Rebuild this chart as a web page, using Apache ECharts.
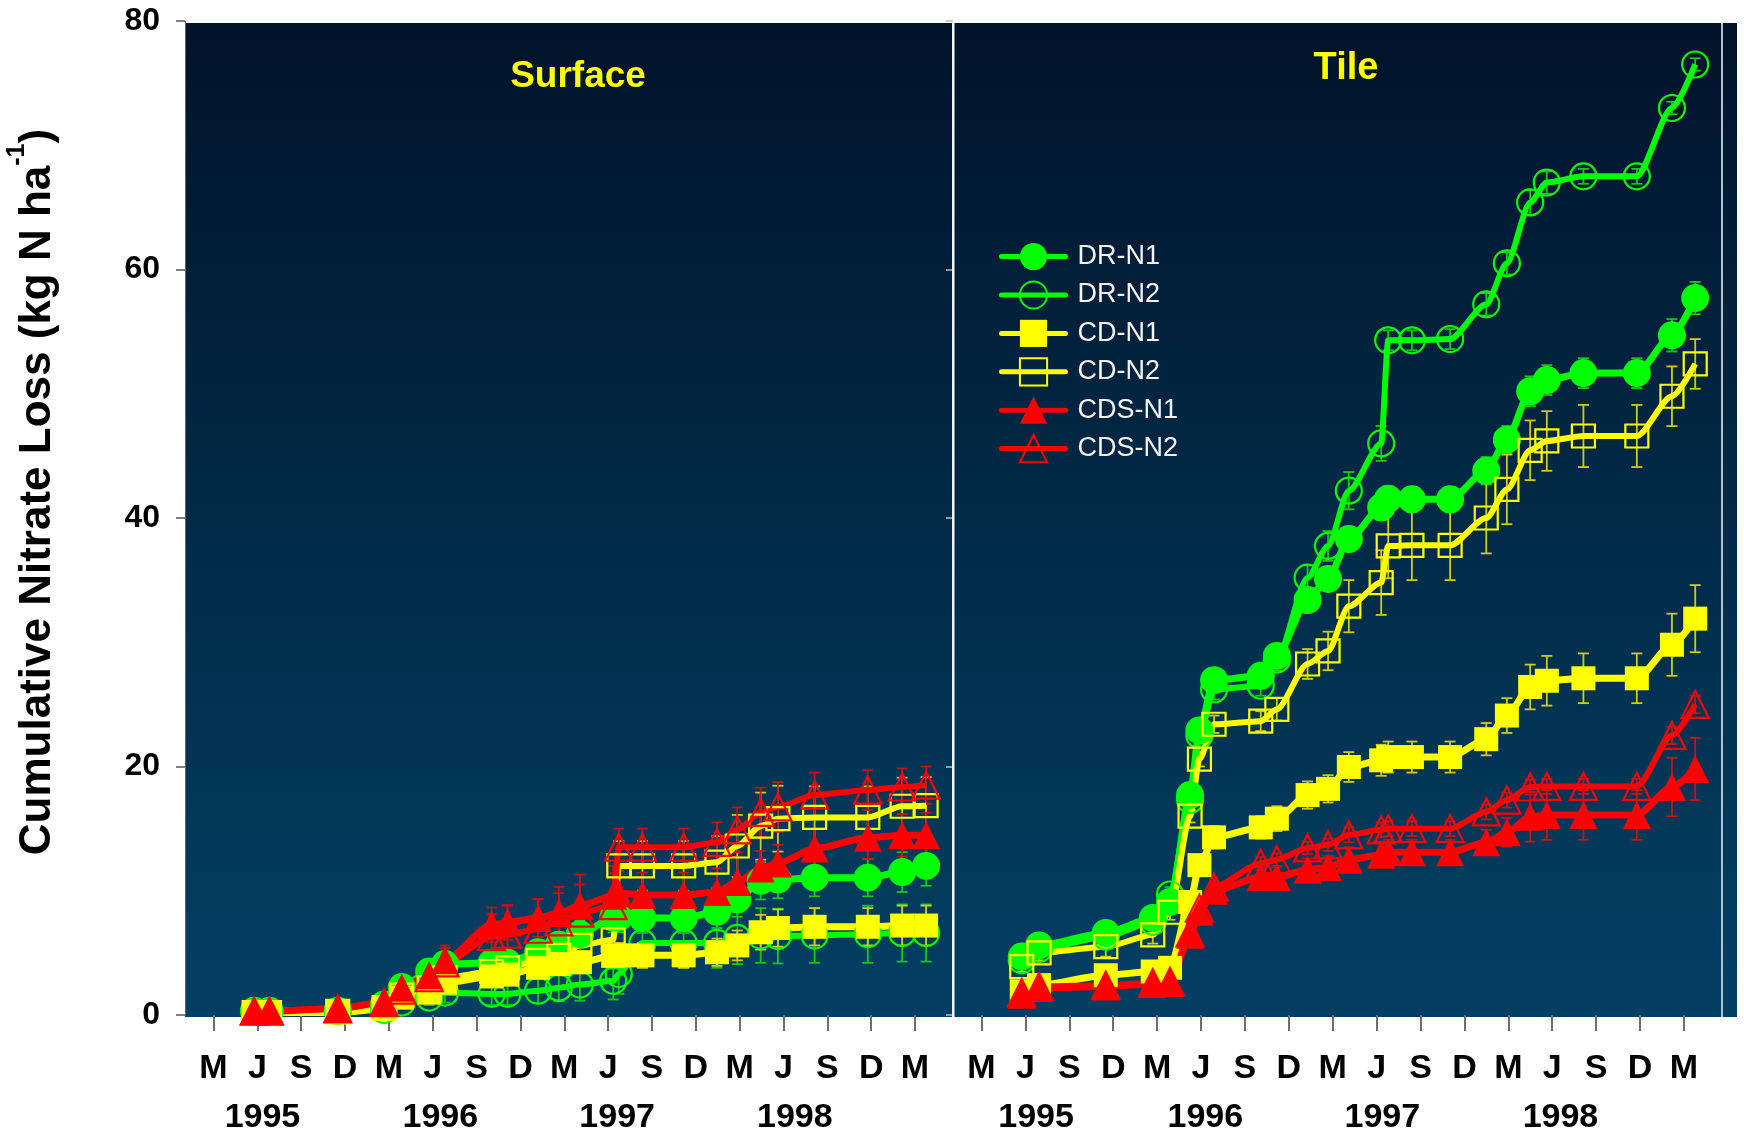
<!DOCTYPE html>
<html>
<head>
<meta charset="utf-8">
<script src="https://cdn.jsdelivr.net/npm/echarts@6/dist/echarts.min.js"></script>
<style>
  html, body { margin: 0; padding: 0; background: #fff; }
  #chart { width: 1744px; height: 1135px; }
</style>
</head>
<body>
<div id="chart"></div>
<script>
// x values are months counted from Dec 1994 (Mar 1995 = 3)
const tickMonths = [3, 6, 9, 12, 15, 18, 21, 24, 27, 30, 33, 36, 39, 42, 45, 48, 51]
const tickLetters = ['M', 'J', 'S', 'D', 'M', 'J', 'S', 'D', 'M', 'J', 'S', 'D', 'M', 'J', 'S', 'D', 'M']
const yearLabels = ['1995', '1996', '1997', '1998']
const surfaceYearPos = [6.35, 18.52, 30.62, 42.78]
const tileYearPos = [6.73, 18.29, 30.39, 42.56]

const seriesNames = ['DR-N1', 'DR-N2', 'CD-N1', 'CD-N2', 'CDS-N1', 'CDS-N2']

// Surface panel
const surfaceDates = [5.78, 6.83, 11.50, 14.67, 15.88, 17.76, 18.84, 22.03, 23.12, 25.21, 26.63, 28.07,
  30.35, 30.73, 32.35, 35.17, 37.45, 38.84, 40.44, 41.62, 44.13, 47.77, 50.12, 51.76]
const surfDRN1 = [0.35, 0.35, 0.35, 0.85, 2.25, 3.5, 4.1, 4.2, 4.2, 5.05, 5.65, 6.5, 7.84, 7.85, 7.8, 7.8, 8.3, 9.3, 10.8, 10.9, 11.05, 11.05, 11.5, 12.0]
const surfDRN2 = [0.3, 0.3, 0.3, 0.4, 1.0, 1.4, 1.8, 1.7, 1.7, 1.95, 2.2, 2.45, 2.75, 3.3, 5.8, 5.8, 5.8, 6.2, 6.4, 6.35, 6.4, 6.5, 6.6, 6.6]
const surfCDN1 = [0.2, 0.2, 0.2, 0.5, 1.4, 1.8, 2.6, 3.1, 3.25, 3.8, 4.1, 4.25, 4.76, 4.8, 4.8, 4.8, 5.05, 5.6, 6.66, 7.0, 7.1, 7.1, 7.2, 7.2]
const surfCDN2 = [0.2, 0.2, 0.3, 0.6, 1.6, 2.2, 3.0, 3.5, 3.8, 4.4, 4.8, 5.6, 6.05, 12.0, 12.0, 12.0, 12.3, 13.6, 15.2, 15.8, 15.9, 15.9, 16.8, 16.85]
const surfCDSN1 = [0.3, 0.3, 0.55, 1.0, 2.2, 3.2, 4.4, 7.25, 7.45, 7.8, 8.2, 8.8, 9.6, 9.8, 9.66, 9.66, 9.9, 10.7, 11.8, 12.2, 13.4, 14.26, 14.47, 14.47]
const surfCDSN2 = [0.3, 0.3, 0.5, 1.0, 2.0, 3.0, 4.2, 6.3, 6.5, 6.9, 7.5, 8.2, 8.8, 13.5, 13.5, 13.5, 13.9, 14.9, 16.3, 16.75, 17.7, 18.1, 18.35, 18.5]
// standard errors (half bar length)
const surfErrDRN1 = [0.1, 0.1, 0.1, 0.2, 0.4, 0.6, 0.8, 0.9, 0.9, 1.0, 1.0, 1.1, 1.2, 1.2, 1.2, 1.2, 1.3, 1.4, 1.5, 1.5, 1.5, 1.5, 1.6, 1.6]
const surfErrDRN2 = [0.1, 0.1, 0.1, 0.2, 0.4, 0.6, 0.8, 0.9, 0.9, 1.0, 1.1, 1.3, 1.5, 1.6, 2.0, 2.0, 2.0, 2.1, 2.2, 2.2, 2.2, 2.3, 2.3, 2.3]
const surfErrCDN1 = [0.1, 0.1, 0.1, 0.2, 0.4, 0.5, 0.6, 0.7, 0.7, 0.8, 0.9, 0.9, 1.0, 1.0, 1.0, 1.0, 1.1, 1.2, 1.4, 1.5, 1.5, 1.5, 1.6, 1.6]
const surfErrCDN2 = [0.1, 0.1, 0.1, 0.2, 0.5, 0.7, 0.9, 1.0, 1.1, 1.2, 1.3, 1.5, 1.6, 2.0, 2.0, 2.0, 2.1, 2.5, 2.7, 2.65, 2.5, 2.5, 2.3, 2.3]
const surfErrCDSN1 = [0.1, 0.1, 0.2, 0.3, 0.6, 0.8, 1.0, 1.4, 1.4, 1.5, 1.6, 1.7, 1.8, 1.8, 1.8, 1.8, 1.9, 2.0, 1.4, 1.5, 1.6, 1.7, 1.7, 1.8]
const surfErrCDSN2 = [0.1, 0.1, 0.2, 0.3, 0.8, 1.1, 1.4, 1.8, 2.3, 2.45, 2.8, 3.1, 3.2, 1.5, 1.5, 1.5, 1.6, 1.8, 2.0, 2.0, 1.8, 1.6, 1.5, 1.5]

// Tile panel
const tileDates = [5.75, 6.93, 11.49, 14.70, 15.88, 17.25, 17.89, 18.89, 22.08, 23.18, 25.28, 26.68, 28.10,
  30.31, 30.79, 32.41, 35.02, 37.49, 38.90, 40.49, 41.63, 44.13, 47.78, 50.18, 51.77]
const tileDRN1 = [4.7, 5.6, 6.6, 7.8, 9.1, 17.7, 22.9, 26.95, 27.3, 28.9, 33.4, 35.1, 38.3, 40.85, 41.55, 41.5, 41.5, 43.8, 46.3, 50.2, 51.1, 51.66, 51.66, 54.7, 57.7]
const tileDRN2 = [4.4, 5.3, 6.3, 7.5, 9.7, 17.3, 22.5, 26.2, 26.5, 28.6, 35.2, 37.75, 42.2, 46.0, 54.3, 54.3, 54.4, 57.2, 60.5, 65.4, 67.0, 67.5, 67.5, 73.0, 76.5]
const tileCDN1 = [1.9, 2.4, 3.2, 3.5, 3.8, 9.1, 12.06, 14.3, 15.1, 15.8, 17.7, 18.2, 19.96, 20.5, 20.76, 20.76, 20.76, 22.2, 24.1, 26.4, 26.9, 27.1, 27.1, 29.8, 31.9]
const tileCDN2 = [3.9, 5.0, 5.5, 6.45, 8.27, 16.0, 20.6, 23.4, 23.65, 24.6, 28.25, 29.3, 32.9, 34.8, 37.75, 37.8, 37.8, 40.0, 42.3, 45.45, 46.2, 46.6, 46.6, 49.8, 52.4]
const tileCDSN1 = [1.63, 2.17, 2.3, 2.5, 2.57, 6.45, 8.3, 10.0, 11.1, 11.1, 11.7, 11.9, 12.5, 12.9, 13.1, 13.1, 13.1, 13.9, 14.7, 15.95, 16.1, 16.1, 16.1, 18.35, 19.8]
const tileCDSN2 = [1.8, 2.3, 2.4, 2.6, 2.7, 6.6, 8.6, 10.3, 12.2, 12.5, 13.45, 13.7, 14.5, 14.9, 15.0, 15.0, 15.0, 16.35, 17.3, 18.35, 18.4, 18.4, 18.4, 22.5, 25.0]
const tileErrDRN1 = [0.3, 0.3, 0.3, 0.4, 0.5, 0.6, 0.6, 0.7, 0.7, 0.8, 0.8, 0.9, 0.9, 1.0, 1.0, 1.0, 1.0, 1.1, 1.1, 1.2, 1.2, 1.2, 1.2, 1.3, 1.3]
const tileErrDRN2 = [0.4, 0.4, 0.4, 0.5, 0.6, 0.8, 0.8, 0.8, 0.8, 0.9, 1.0, 1.2, 1.5, 1.4, 0.8, 0.8, 0.8, 0.9, 0.9, 1.0, 0.9, 0.6, 0.6, 0.5, 0.5]
const tileErrCDN1 = [0.3, 0.3, 0.3, 0.4, 0.5, 0.7, 0.8, 0.9, 0.9, 1.0, 1.1, 1.1, 1.2, 1.25, 1.25, 1.25, 1.25, 1.3, 1.4, 1.8, 2.0, 2.0, 2.0, 2.5, 2.7]
const tileErrCDN2 = [0.4, 0.6, 0.8, 0.7, 0.6, 0.5, 0.6, 0.7, 0.8, 0.9, 1.2, 1.55, 2.1, 2.6, 2.6, 2.8, 2.8, 2.85, 2.8, 2.4, 2.4, 2.5, 2.5, 2.4, 2.0]
const tileErrCDSN1 = [0.2, 0.2, 0.3, 0.3, 0.3, 0.4, 0.5, 0.6, 0.8, 0.8, 0.9, 0.9, 1.0, 1.0, 1.0, 1.0, 1.0, 1.0, 1.15, 2.0, 2.0, 2.0, 2.0, 2.35, 2.5]
const tileErrCDSN2 = [0.2, 0.2, 0.2, 0.2, 0.2, 0.3, 0.3, 0.4, 0.5, 0.5, 0.5, 0.5, 0.6, 0.6, 0.6, 0.6, 0.6, 0.6, 0.6, 0.6, 0.6, 0.6, 0.6, 0.7, 0.7]

const FONT = '"Liberation Sans", Arial, Helvetica, sans-serif'
const X_MIN = 1.05
const X_MAX = 53.6

// look of each treatment, in legend order
const looks = [
  { color: '#00ff00', err: '#14c814', symbol: 'circle', size: 28, filled: true, width: 7 },
  { color: '#00ff00', err: '#14c814', symbol: 'circle', size: 26, filled: false, width: 6 },
  { color: '#ffff00', err: '#cfcb1c', symbol: 'rect', size: 24, filled: true, width: 7 },
  { color: '#ffff00', err: '#cfcb1c', symbol: 'rect', size: 23, filled: false, width: 6 },
  { color: '#ff0000', err: '#c81414', symbol: 'triangle', size: 28, filled: true, width: 7 },
  { color: '#ff0000', err: '#c81414', symbol: 'triangle', size: 27, filled: false, width: 6 }
]

const panels = [
  { xAxisIndex: 0, yAxisIndex: 0, dates: surfaceDates,
    values: [surfDRN1, surfDRN2, surfCDN1, surfCDN2, surfCDSN1, surfCDSN2],
    errors: [surfErrDRN1, surfErrDRN2, surfErrCDN1, surfErrCDN2, surfErrCDSN1, surfErrCDSN2] },
  { xAxisIndex: 2, yAxisIndex: 2, dates: tileDates,
    values: [tileDRN1, tileDRN2, tileCDN1, tileCDN2, tileCDSN1, tileCDSN2],
    errors: [tileErrDRN1, tileErrDRN2, tileErrCDN1, tileErrCDN2, tileErrCDSN1, tileErrCDSN2] }
]

const series = []
panels.forEach(p => {
  seriesNames.forEach((name, k) => {
    const look = looks[k]
    const vals = p.values[k]
    const errs = p.errors[k]
    // error bars
    series.push({
      name: name + ' se',
      type: 'custom',
      xAxisIndex: p.xAxisIndex,
      yAxisIndex: p.yAxisIndex,
      silent: true,
      clip: false,
      data: p.dates.map((d, i) => [d, vals[i] - errs[i], vals[i] + errs[i]]),
      encode: { x: 0, y: [1, 2] },
      renderItem: (params, api) => {
        const lo = api.coord([api.value(0), api.value(1)])
        const hi = api.coord([api.value(0), api.value(2)])
        const style = { stroke: look.err, lineWidth: 1.8 }
        return {
          type: 'group',
          children: [
            { type: 'line', shape: { x1: lo[0], y1: lo[1], x2: hi[0], y2: hi[1] }, style },
            { type: 'line', shape: { x1: lo[0] - 5.5, y1: lo[1], x2: lo[0] + 5.5, y2: lo[1] }, style },
            { type: 'line', shape: { x1: hi[0] - 5.5, y1: hi[1], x2: hi[0] + 5.5, y2: hi[1] }, style }
          ]
        }
      }
    })
    series.push({
      name,
      type: 'line',
      xAxisIndex: p.xAxisIndex,
      yAxisIndex: p.yAxisIndex,
      data: p.dates.map((d, i) => [d, vals[i]]),
      smooth: 0.25,
      smoothMonotone: 'x',
      clip: false,
      symbol: look.symbol,
      symbolSize: look.size,
      showAllSymbol: true,
      lineStyle: { color: look.color, width: look.width },
      itemStyle: look.filled
        ? { color: look.color }
        : { color: 'rgba(0,0,0,0)', borderColor: look.color, borderWidth: 2.2 },
      emphasis: { disabled: true }
    })
  })
})

const monthAxis = gridIndex => ({
  type: 'value',
  gridIndex,
  position: 'bottom',
  min: X_MIN,
  max: X_MAX,
  axisLine: { show: false },
  splitLine: { show: false },
  axisTick: {
    show: true,
    customValues: tickMonths,
    length: 16,
    lineStyle: { color: '#6e6e6e', width: 2 }
  },
  axisLabel: {
    customValues: tickMonths,
    formatter: v => tickLetters[tickMonths.indexOf(v)],
    margin: 37,
    color: '#000',
    fontSize: 34,
    fontWeight: 'bold',
    fontFamily: FONT
  }
})

const yearAxis = (gridIndex, pos) => ({
  type: 'value',
  gridIndex,
  position: 'bottom',
  min: X_MIN,
  max: X_MAX,
  axisLine: { show: false },
  splitLine: { show: false },
  axisTick: { show: false },
  axisLabel: {
    customValues: pos,
    formatter: v => yearLabels[pos.indexOf(v)],
    margin: 86,
    color: '#000',
    fontSize: 34,
    fontWeight: 'bold',
    fontFamily: FONT
  }
})

const option = {
  animation: false,
  backgroundColor: '#ffffff',
  grid: [
    { left: 185, top: 21, width: 768, height: 996 },
    { left: 953, top: 21, width: 769, height: 996 }
  ],
  xAxis: [monthAxis(0), yearAxis(0, surfaceYearPos), monthAxis(1), yearAxis(1, tileYearPos)],
  yAxis: [
    {
      type: 'value', gridIndex: 0, position: 'left', min: 0, max: 80, interval: 20,
      splitLine: { show: false },
      axisLine: { show: true, lineStyle: { color: '#5b6670', width: 1 } },
      axisTick: { show: true, length: 9, lineStyle: { color: '#555', width: 1.5 } },
      axisLabel: { margin: 25, color: '#000', fontSize: 32, fontWeight: 'bold', fontFamily: FONT }
    },
    {
      type: 'value', gridIndex: 0, position: 'right', min: 0, max: 80, interval: 20,
      splitLine: { show: false },
      axisLine: { show: false },
      axisTick: { show: true, inside: true, length: 7, lineStyle: { color: '#b8bec4', width: 1.5 } },
      axisLabel: { show: false }
    },
    {
      type: 'value', gridIndex: 1, min: 0, max: 80, interval: 20,
      splitLine: { show: false }, axisLine: { show: false },
      axisTick: { show: false }, axisLabel: { show: false }
    }
  ],
  legend: {
    data: seriesNames,
    orient: 'vertical',
    left: 994,
    top: 238,
    itemWidth: 64,
    itemHeight: 34,
    itemGap: 10.2,
    lineStyle: { width: 5, cap: 'round' },
    textStyle: { color: '#f4f4f4', fontSize: 27, fontFamily: FONT, padding: [0, 0, 0, 7] },
    selectedMode: false
  },
  graphic: [
    {
      type: 'rect', z: -10, silent: true,
      shape: { x: 185, y: 23, width: 1552, height: 994 },
      style: {
        fill: {
          type: 'linear', x: 0, y: 0, x2: 0, y2: 1,
          colorStops: [
            { offset: 0, color: '#01132a' },
            { offset: 0.5, color: '#012a47' },
            { offset: 1, color: '#024063' }
          ]
        }
      }
    },
    {
      type: 'rect', z: 10, silent: true,
      shape: { x: 952, y: 23, width: 2.5, height: 994 },
      style: { fill: '#f2f5f8' }
    },
    {
      type: 'rect', z: 10, silent: true,
      shape: { x: 1721, y: 23, width: 2, height: 994 },
      style: { fill: '#b4c0ca' }
    },
    {
      type: 'text', z: 10, silent: true, x: 578, y: 77,
      style: { text: 'Surface', fill: '#ffff00', font: 'bold 37px ' + FONT, align: 'center', verticalAlign: 'middle' }
    },
    {
      type: 'text', z: 10, silent: true, x: 1346, y: 69,
      style: { text: 'Tile', fill: '#ffff00', font: 'bold 38px ' + FONT, align: 'center', verticalAlign: 'middle' }
    },
    {
      type: 'text', z: 10, silent: true, x: 38, y: 492, rotation: Math.PI / 2,
      style: {
        text: '{m|Cumulative Nitrate Loss (kg N ha}{s|-1}{m|)}',
        align: 'center',
        verticalAlign: 'middle',
        rich: {
          m: { fontSize: 44, fontWeight: 'bold', fontFamily: FONT, fill: '#000' },
          s: { fontSize: 25, fontWeight: 'bold', fontFamily: FONT, fill: '#000', verticalAlign: 'top', padding: [0, 0, 42, 0] }
        }
      }
    }
  ],
  series
}

const chart = echarts.init(document.getElementById('chart'))
chart.setOption(option)
</script>
</body>
</html>
